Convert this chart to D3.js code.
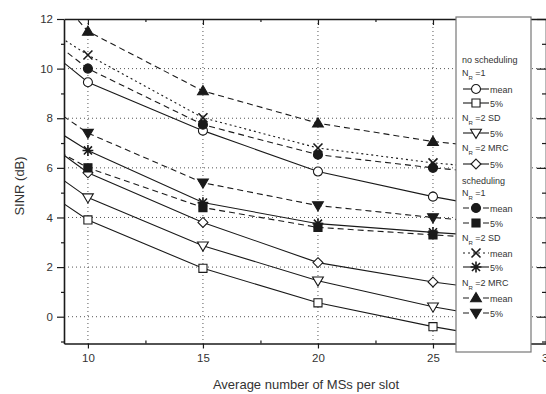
<!DOCTYPE html>
<html>
<head>
<meta charset="utf-8">
<script src="https://cdn.jsdelivr.net/npm/d3@7"></script>
<style>
  html, body { margin: 0; padding: 0; background: #fff; }
  svg { display: block; font-family: "Liberation Sans", Arial, sans-serif; }
</style>
</head>
<body>
<svg id="chart" width="546" height="394"></svg>
<script>
// Average number of mobile stations per slot
const msPerSlot = [5, 10, 15, 20, 25, 30];
// simulated load points that carry a marker
const markedLoads = [10, 15, 20, 25];

// SINR (dB) for each configuration
const noSchedN1Mean   = [13.2, 9.45, 7.5, 5.85, 4.84, 4.0];
const noSchedN1P5     = [7.0, 3.9, 1.95, 0.56, -0.4, -1.2];
const noSchedSD5      = [8.1, 4.8, 2.86, 1.45, 0.4, -0.4];
const noSchedMRC5     = [9.2, 5.8, 3.8, 2.18, 1.4, 0.8];
const schedN1Mean     = [13.6, 10.0, 7.74, 6.53, 6.0, 5.6];
const schedN1P5       = [8.6, 6.0, 4.4, 3.6, 3.3, 3.0];
const schedSDMean     = [13.5, 10.55, 8.02, 6.8, 6.2, 5.8];
const schedSD5        = [9.6, 6.7, 4.6, 3.75, 3.4, 3.1];
const schedMRCMean    = [16.8, 11.5, 9.1, 7.8, 7.06, 6.6];
const schedMRC5       = [10.6, 7.4, 5.4, 4.48, 4.0, 3.6];

const xTicks = [10, 15, 20, 25, 30];
const yTicks = [0, 2, 4, 6, 8, 10, 12];

// series definitions: values, marker, line dash
const series = [
  { id: "ns1m", values: noSchedN1Mean, marker: "circle",   filled: false, dash: null },
  { id: "ns15", values: noSchedN1P5,   marker: "square",   filled: false, dash: null },
  { id: "nsd5", values: noSchedSD5,    marker: "triDown",  filled: false, dash: null },
  { id: "nmr5", values: noSchedMRC5,   marker: "diamond",  filled: false, dash: null },
  { id: "s1m",  values: schedN1Mean,   marker: "circle",   filled: true,  dash: "6,4" },
  { id: "s15",  values: schedN1P5,     marker: "square",   filled: true,  dash: "6,4" },
  { id: "sdm",  values: schedSDMean,   marker: "x",        filled: false, dash: "2,3" },
  { id: "sd5",  values: schedSD5,      marker: "asterisk", filled: false, dash: null },
  { id: "mrm",  values: schedMRCMean,  marker: "triUp",    filled: true,  dash: "6,4" },
  { id: "mr5",  values: schedMRC5,     marker: "triDown",  filled: true,  dash: "6,4" }
];

// legend rows: headings and entries keyed by series id
const legendRows = [
  { text: "no scheduling" },
  { nr: "1" },
  { id: "ns1m", label: "mean" },
  { id: "ns15", label: "5%" },
  { nr: "2", suffix: " SD" },
  { id: "nsd5", label: "5%" },
  { nr: "2", suffix: " MRC" },
  { id: "nmr5", label: "5%" },
  { text: "scheduling" },
  { nr: "1" },
  { id: "s1m", label: "mean" },
  { id: "s15", label: "5%" },
  { nr: "2", suffix: " SD" },
  { id: "sdm", label: "mean" },
  { id: "sd5", label: "5%" },
  { nr: "2", suffix: " MRC" },
  { id: "mrm", label: "mean" },
  { id: "mr5", label: "5%" }
];

const svg = d3.select("#chart");
const ink = "#1a1a1a";

const x = d3.scaleLinear().domain([8.96, 30]).range([64, 548]);
const y = d3.scaleLinear().domain([-1.08, 12]).range([343.5, 19]);

// legend box geometry
const legendBox = { x: 456, y: 17, w: 75, h: 335 };

// marker shapes
function markerPath(kind, s) {
  const p = d3.path();
  if (kind === "circle") { p.arc(0, 0, s * 0.5, 0, 2 * Math.PI); }
  else if (kind === "square") { p.rect(-s * 0.45, -s * 0.45, s * 0.9, s * 0.9); }
  else if (kind === "diamond") { const r = s * 0.55; p.moveTo(0, -r); p.lineTo(r, 0); p.lineTo(0, r); p.lineTo(-r, 0); p.closePath(); }
  else if (kind === "triUp") { const r = s * 0.6; p.moveTo(0, -r); p.lineTo(r, r * 0.7); p.lineTo(-r, r * 0.7); p.closePath(); }
  else if (kind === "triDown") { const r = s * 0.6; p.moveTo(0, r); p.lineTo(r, -r * 0.7); p.lineTo(-r, -r * 0.7); p.closePath(); }
  else if (kind === "x") { const r = s * 0.5; p.moveTo(-r, -r); p.lineTo(r, r); p.moveTo(r, -r); p.lineTo(-r, r); }
  else if (kind === "asterisk") {
    const r = s * 0.6, d = r * 0.75;
    p.moveTo(-r, 0); p.lineTo(r, 0); p.moveTo(0, -r); p.lineTo(0, r);
    p.moveTo(-d, -d); p.lineTo(d, d); p.moveTo(d, -d); p.lineTo(-d, d);
  }
  return p.toString();
}
function drawMarker(g, kind, filled, size) {
  const stroked = kind === "x" || kind === "asterisk";
  g.append("path")
    .attr("d", markerPath(kind, size))
    .attr("fill", stroked ? "none" : (filled ? ink : "#fff"))
    .attr("stroke", ink)
    .attr("stroke-width", stroked ? 1.6 : 1.1);
}

// clip region: curves stop beneath the legend
svg.append("defs").append("clipPath").attr("id", "plotClip")
  .append("rect").attr("x", 64).attr("y", 19)
  .attr("width", legendBox.x + legendBox.w - 64).attr("height", 324.5);

// grid
const grid = svg.append("g").attr("stroke", "#555").attr("stroke-width", 1).attr("stroke-dasharray", "1,3");
grid.selectAll("line.v").data([10, 15, 20, 25]).join("line")
  .attr("x1", d => x(d)).attr("x2", d => x(d)).attr("y1", y(12)).attr("y2", y(-1.08));
grid.selectAll("line.h").data([0, 2, 4, 6, 8, 10]).join("line")
  .attr("x1", x(8.96)).attr("x2", x(30)).attr("y1", d => y(d)).attr("y2", d => y(d));

// lines and markers
const plot = svg.append("g").attr("clip-path", "url(#plotClip)");
const line = d3.line().x((d, i) => x(msPerSlot[i])).y(d => y(d));
series.forEach(s => {
  plot.append("path")
    .attr("d", line(s.values))
    .attr("fill", "none")
    .attr("stroke", ink)
    .attr("stroke-width", 1.1)
    .attr("stroke-dasharray", s.dash);
});
series.forEach(s => {
  s.values.forEach((v, i) => {
    if (!markedLoads.includes(msPerSlot[i])) return;
    const g = plot.append("g").attr("transform", `translate(${x(msPerSlot[i])},${y(v)})`);
    drawMarker(g, s.marker, s.filled, 9);
  });
});

// axes
const axisStyle = g => {
  g.selectAll(".domain").attr("stroke", ink).attr("stroke-width", 1.6);
  g.selectAll(".tick line").attr("stroke", ink).attr("stroke-width", 1.2);
  g.selectAll(".tick text").attr("fill", "#333").attr("font-size", 11.5)
    .attr("font-family", "Liberation Sans, Arial, sans-serif");
};
const minorX = d3.range(10, 30, 2.5).filter(v => v % 5 !== 0);
const minorY = d3.range(-1, 12, 2);

svg.append("g").attr("transform", `translate(0,${y(-1.08)})`)
  .call(d3.axisBottom(x).tickValues(xTicks).tickFormat(d3.format("d")).tickSize(5).tickPadding(5).tickSizeOuter(0))
  .call(axisStyle);
svg.append("g").attr("transform", `translate(0,${y(-1.08)})`)
  .call(d3.axisTop(x).tickValues(minorX).tickFormat("").tickSize(3).tickSizeOuter(0))
  .call(g => g.select(".domain").remove()).call(axisStyle);

svg.append("g").attr("transform", `translate(${x(8.96)},0)`)
  .call(d3.axisLeft(y).tickValues(yTicks).tickFormat(d3.format("d")).tickSize(7).tickPadding(4).tickSizeOuter(0))
  .call(axisStyle);
svg.append("g").attr("transform", `translate(${x(8.96)},0)`)
  .call(d3.axisLeft(y).tickValues(minorY).tickFormat("").tickSize(3).tickSizeOuter(0))
  .call(g => g.select(".domain").remove()).call(axisStyle);

// top and right frame with inward ticks
svg.append("g").attr("transform", `translate(0,${y(12)})`)
  .call(d3.axisBottom(x).tickValues(xTicks).tickFormat("").tickSize(6).tickSizeOuter(0))
  .call(axisStyle);
svg.append("g").attr("transform", `translate(0,${y(12)})`)
  .call(d3.axisBottom(x).tickValues(minorX).tickFormat("").tickSize(3).tickSizeOuter(0))
  .call(g => g.select(".domain").remove()).call(axisStyle);
svg.append("g").attr("transform", `translate(${x(30) - 2},0)`)
  .call(d3.axisLeft(y).tickValues(yTicks).tickFormat("").tickSizeInner(9).tickSizeOuter(0))
  .call(axisStyle);
svg.append("g").attr("transform", `translate(${x(30) - 2},0)`)
  .call(d3.axisLeft(y).tickValues(minorY).tickFormat("").tickSize(4).tickSizeOuter(0))
  .call(g => g.select(".domain").remove()).call(axisStyle);

// axis titles
svg.append("text")
  .attr("x", 306).attr("y", 389).attr("text-anchor", "middle")
  .attr("font-size", 13).attr("fill", "#333")
  .text("Average number of MSs per slot");
svg.append("text")
  .attr("transform", "translate(24,186) rotate(-90)").attr("text-anchor", "middle")
  .attr("font-size", 13).attr("fill", "#333")
  .text("SINR (dB)");

// legend
const lg = svg.append("g");
lg.append("rect").attr("x", legendBox.x).attr("y", legendBox.y)
  .attr("width", legendBox.w).attr("height", legendBox.h)
  .attr("fill", "#fff").attr("stroke", "#777").attr("stroke-width", 1.2);

const rowY = [59, 72, 89, 103, 117, 133, 147, 164, 180, 192, 208, 223, 237, 253, 267, 282, 298, 313];
const byId = Object.fromEntries(series.map(s => [s.id, s]));
legendRows.forEach((r, i) => {
  const cy = rowY[i];
  const fs = 9;
  if (r.text) {
    lg.append("text").attr("x", 462).attr("y", cy + 3.5).attr("font-size", fs).attr("fill", "#333").text(r.text);
  } else if (r.nr) {
    const t = lg.append("text").attr("x", 462).attr("y", cy + 3.5).attr("font-size", fs).attr("fill", "#333");
    t.append("tspan").text("N");
    t.append("tspan").attr("font-size", 6).attr("dy", 4).text("R");
    t.append("tspan").attr("dy", -4).text(" =" + r.nr + (r.suffix || ""));
  } else {
    const s = byId[r.id];
    lg.append("line").attr("x1", 463).attr("x2", 489).attr("y1", cy).attr("y2", cy)
      .attr("stroke", ink).attr("stroke-width", 1.1).attr("stroke-dasharray", s.dash);
    drawMarker(lg.append("g").attr("transform", `translate(476,${cy})`), s.marker, s.filled, 9);
    lg.append("text").attr("x", 490).attr("y", cy + 3.5).attr("font-size", fs).attr("fill", "#333").text(r.label);
  }
});
</script>
</body>
</html>
